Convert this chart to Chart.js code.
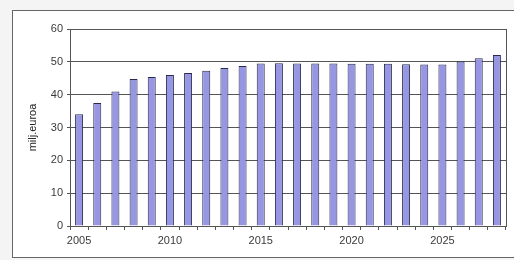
<!DOCTYPE html>
<html>
<head>
<meta charset="utf-8">
<script src="https://cdn.jsdelivr.net/npm/chart.js@4.4.1/dist/chart.umd.min.js"></script>
<style>
  html, body { margin: 0; padding: 0; background: #f4f4f4; }
  #wrap { position: relative; width: 514px; height: 260px; overflow: hidden; }
  #frame { position: absolute; left: 12px; top: 10px; width: 520px; height: 246px;
           border: 1px solid #666; background: #fff; }
  canvas { position: absolute; left: 0; top: 0; }
</style>
</head>
<body>
<div id="wrap">
  <div id="frame"></div>
  <canvas id="myBarChart" width="514" height="260"></canvas>
</div>
<script>
// vuodet ja arvot (milj. euroa), luettu kuvasta
var years = [2005, 2006, 2007, 2008, 2009, 2010, 2011, 2012, 2013, 2014, 2015, 2016,
             2017, 2018, 2019, 2020, 2021, 2022, 2023, 2024, 2025, 2026, 2027, 2028];
var values = [34.0, 37.5, 41.0, 44.8, 45.4, 46.0, 46.6, 47.3, 48.1, 48.7, 49.5, 49.6,
              49.5, 49.5, 49.5, 49.4, 49.4, 49.4, 49.3, 49.2, 49.2, 50.1, 51.1, 52.1];
var yTicks = [0, 10, 20, 30, 40, 50, 60];
var yTitle = "milj.euroa";

document.addEventListener("DOMContentLoaded", function () {
  var ctx = document.getElementById("myBarChart").getContext("2d");

  // kehys piirtoalueen ympärille
  var areaBorder = {
    id: "areaBorder",
    afterDraw: function (chart) {
      var a = chart.chartArea, c = chart.ctx;
      c.save();
      c.strokeStyle = "#555";
      c.lineWidth = 1;
      c.strokeRect(Math.round(a.left) + 0.5, Math.round(a.top) + 0.5,
                   Math.round(a.right - a.left), Math.round(a.bottom - a.top));
      c.restore();
    }
  };

  var font = { family: "Liberation Sans, Arial", size: 11 };

  var data = {
    labels: years,
    datasets: [{
      data: values,
      backgroundColor: "#9696e2",
      borderColor: "#2a2a50",
      borderWidth: 1,
      barPercentage: 0.44,
      categoryPercentage: 1.0
    }]
  };

  var config = {
    type: "bar",
    data: data,
    options: {
      responsive: false,
      animation: false,
      layout: { padding: { left: 0, top: 29, right: 8, bottom: 0 } },
      plugins: { legend: { display: false }, tooltip: { enabled: false } },
      scales: {
        x: {
          grid: { offset: true, drawOnChartArea: false, tickLength: 4, color: "#555" },
          border: { color: "#555" },
          ticks: {
            autoSkip: false, maxRotation: 0, padding: 4, color: "#3a3a3a", font: font,
            callback: function (v, i) {
              var y = years[i];
              return (y - 2005) % 5 === 0 ? String(y) : "";
            }
          },
          afterFit: function (s) { s.height = 34; }
        },
        y: {
          min: yTicks[0], max: yTicks[yTicks.length - 1],
          afterBuildTicks: function (s) { s.ticks = yTicks.map(function (v) { return { value: v }; }); },
          grid: { color: "#555", tickLength: 3 },
          border: { color: "#555" },
          ticks: { padding: 4, color: "#3a3a3a", font: font },
          title: {
            display: true, text: yTitle, color: "#222", font: font,
            padding: { top: 26, bottom: 0 }
          },
          afterFit: function (s) { s.width = 70; }
        }
      }
    },
    plugins: [areaBorder]
  };
  var myBarChart = new Chart(ctx, config);
});
</script>
</body>
</html>
